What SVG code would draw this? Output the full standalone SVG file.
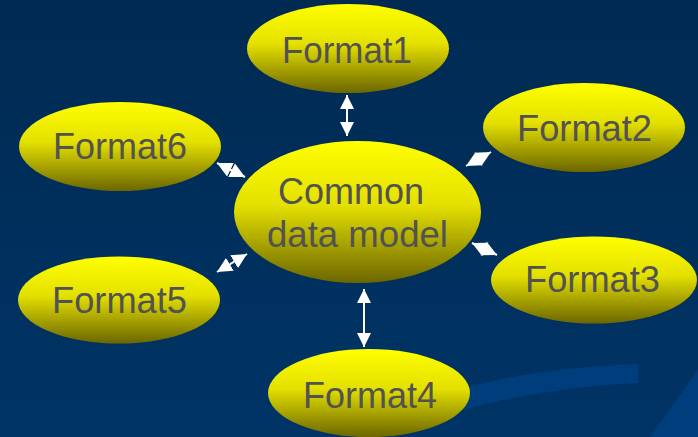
<svg xmlns="http://www.w3.org/2000/svg" width="698" height="437" viewBox="0 0 698 437">
<defs>
<linearGradient id="bg" x1="0" y1="0" x2="0" y2="1">
<stop offset="0" stop-color="#002a52"/>
<stop offset="1" stop-color="#003466"/>
</linearGradient>
<linearGradient id="yel" x1="0" y1="0" x2="0" y2="1">
<stop offset="0" stop-color="#ffff00"/>
<stop offset="0.45" stop-color="#e4e000"/>
<stop offset="1" stop-color="#6c6600"/>
</linearGradient>
<marker id="ah" viewBox="0 0 10 10" refX="10" refY="5" markerUnits="userSpaceOnUse" markerWidth="14" markerHeight="14" orient="auto-start-reverse">
<path d="M0,0 L10,5 L0,10 z" fill="#ffffff"/>
</marker>
<marker id="ahb" viewBox="0 0 10 10" refX="10" refY="5" markerUnits="userSpaceOnUse" markerWidth="15" markerHeight="16" orient="auto-start-reverse">
<path d="M0,0 L10,5 L0,10 z" fill="#ffffff"/>
</marker>
<style>
.node ellipse{fill:url(#yel);}
.node text{font-family:"Liberation Sans",Arial,sans-serif;font-size:37.5px;fill:#525252;text-anchor:middle;}
.conn line{stroke:#ffffff;stroke-width:2;marker-start:url(#ah);marker-end:url(#ah);}
.conn line.d{marker-start:url(#ahb);marker-end:url(#ahb);}
</style>
</defs>
<rect x="0" y="0" width="698" height="437" fill="url(#bg)"/>
<path d="M455,390 Q540,367 638,364 L638,383 Q545,387 455,412 Z" fill="#003d7c"/>
<path d="M650,437 L698,370 L698,437 Z" fill="#003d7c"/>
<g id="connectors" class="conn">
<line x1="347" y1="95" x2="347" y2="136"/>
<line x1="364" y1="289" x2="364" y2="347"/>
<line class="d" x1="217" y1="163" x2="245" y2="177"/>
<line class="d" x1="466" y1="166" x2="491" y2="152"/>
<line class="d" x1="472" y1="243" x2="497" y2="255"/>
<line class="d" x1="217" y1="272" x2="247" y2="254"/>
</g>
<g id="common" class="node">
<ellipse cx="357.5" cy="212" rx="123.5" ry="71"/>
<text x="351" y="204" textLength="146" lengthAdjust="spacingAndGlyphs">Common</text>
<text x="357.5" y="247" textLength="181" lengthAdjust="spacingAndGlyphs">data model</text>
</g>
<g id="format1" class="node">
<ellipse cx="348" cy="48.5" rx="101" ry="44.5"/>
<text x="347" y="63" textLength="130" lengthAdjust="spacingAndGlyphs">Format1</text>
</g>
<g id="format2" class="node">
<ellipse cx="584" cy="127.5" rx="101" ry="44.5"/>
<text x="584.5" y="141" textLength="135" lengthAdjust="spacingAndGlyphs">Format2</text>
</g>
<g id="format3" class="node">
<ellipse cx="594" cy="280" rx="103" ry="43.5"/>
<text x="592.5" y="292" textLength="135" lengthAdjust="spacingAndGlyphs">Format3</text>
</g>
<g id="format4" class="node">
<ellipse cx="369" cy="393" rx="101" ry="44"/>
<text x="370" y="408" textLength="134" lengthAdjust="spacingAndGlyphs">Format4</text>
</g>
<g id="format5" class="node">
<ellipse cx="119" cy="300" rx="101" ry="43.5"/>
<text x="119.5" y="313" textLength="135" lengthAdjust="spacingAndGlyphs">Format5</text>
</g>
<g id="format6" class="node">
<ellipse cx="120" cy="146.5" rx="101" ry="44.5"/>
<text x="120" y="159" textLength="134" lengthAdjust="spacingAndGlyphs">Format6</text>
</g>
</svg>
